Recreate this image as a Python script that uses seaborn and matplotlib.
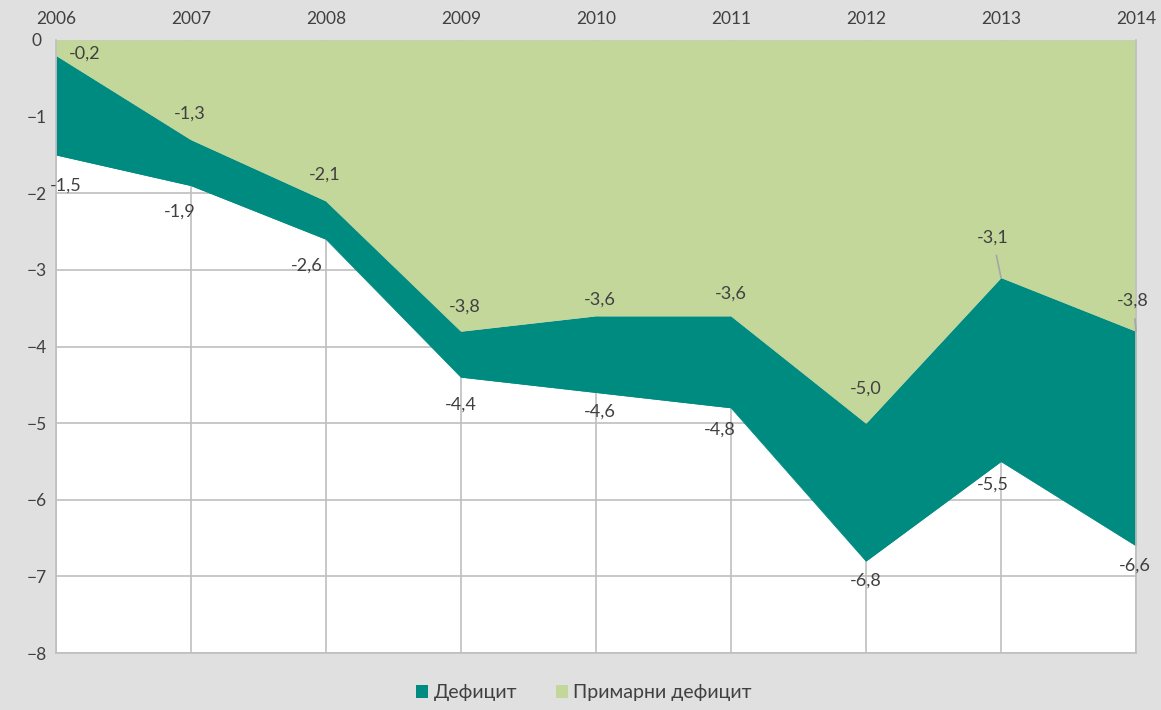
import matplotlib
matplotlib.use("Agg")
import matplotlib.pyplot as plt
import seaborn as sns
import pandas as pd
from matplotlib.patches import Patch

years = [2006, 2007, 2008, 2009, 2010, 2011, 2012, 2013, 2014]
deficit = [-1.5, -1.9, -2.6, -4.4, -4.6, -4.8, -6.8, -5.5, -6.6]
primary = [-0.2, -1.3, -2.1, -3.8, -3.6, -3.6, -5.0, -3.1, -3.8]
series_names = ["Дефицит", "Примарни дефицит"]

TEAL = "#008b80"
LGREEN = "#c4d79b"
BG = "#e0e0e0"
GRID = "#bfbfbf"
TXT = "#404040"

sns.set_theme(style="white")
plt.rcParams["font.family"] = ["Lato", "DejaVu Sans"]

df = pd.DataFrame({"year": years, "deficit": deficit, "primary": primary})

fig = plt.figure(figsize=(11.61, 7.10), dpi=100, facecolor=BG)
ax = fig.add_axes([56 / 1161, 1 - 653 / 710, (1136 - 56) / 1161, (653 - 40) / 710])
ax.set_facecolor("white")

ax.set_axisbelow(True)
ax.grid(True, color=GRID, linewidth=1.2)

ax.fill_between(df["year"], 0, df["primary"], color=LGREEN, linewidth=0, zorder=2)
ax.fill_between(df["year"], df["primary"], df["deficit"], color=TEAL, linewidth=0, zorder=2)
sns.lineplot(data=df, x="year", y="primary", color=LGREEN, linewidth=0.6, ax=ax, zorder=2.5)
sns.lineplot(data=df, x="year", y="deficit", color=TEAL, linewidth=0.6, ax=ax, zorder=2.5)

ax.set_xlim(years[0], years[-1])
ax.set_ylim(-8, 0)
ax.set_xticks(years)
ax.set_yticks(range(-8, 1))
ax.xaxis.tick_top()
ax.tick_params(axis="x", labelsize=12.5, labelcolor=TXT, pad=9, length=0)
ax.tick_params(axis="y", labelsize=12.5, labelcolor=TXT, pad=14, length=0)
ax.set_xlabel("")
ax.set_ylabel("")
for lab in ax.get_yticklabels():
    lab.set_horizontalalignment("center")

for side in ["left", "bottom", "right"]:
    ax.spines[side].set_visible(True)
    ax.spines[side].set_color(GRID)
    ax.spines[side].set_linewidth(1.2)
    ax.spines[side].set_zorder(3)
ax.spines["top"].set_visible(False)

def fmt(v):
    return f"{v:.1f}".replace(".", ",")

# label offsets in points (dx, dy)
prim_off = [(21, 1), (-1, 19), (-1, 19), (3, 18), (3, 12), (0, 16), (0, 25), (-6, 29), (-2, 22)]
def_off = [(7, -22), (-8, -19), (-14, -19), (0, -20), (3, -14), (-8, -16), (0, -14), (-6, -17), (-1, -14)]
prim_leader = [False, False, False, False, False, False, False, True, True]

for i, (x, y) in enumerate(zip(years, primary)):
    dx, dy = prim_off[i]
    kw = {}
    if prim_leader[i]:
        kw["arrowprops"] = dict(arrowstyle="-", color="#a6a6a6", lw=1.2, shrinkA=5, shrinkB=0)
    ax.annotate(fmt(y), (x, y), xytext=(dx, dy), textcoords="offset points",
                ha="center", va="center", fontsize=13, color=TXT, zorder=5,
                annotation_clip=False, **kw)
for i, (x, y) in enumerate(zip(years, deficit)):
    dx, dy = def_off[i]
    ax.annotate(fmt(y), (x, y), xytext=(dx, dy), textcoords="offset points",
                ha="center", va="center", fontsize=13, color=TXT, zorder=5,
                annotation_clip=False)

handles = [Patch(facecolor=TEAL, edgecolor="none"), Patch(facecolor=LGREEN, edgecolor="none")]
leg = fig.legend(handles, series_names, loc="center", bbox_to_anchor=(0.503, 0.024),
                 ncol=2, frameon=False, fontsize=14, handlelength=0.6, handleheight=0.6,
                 handletextpad=0.3, columnspacing=2.0)
for t in leg.get_texts():
    t.set_color(TXT)

fig.savefig("out.png", dpi=100, facecolor=BG)
